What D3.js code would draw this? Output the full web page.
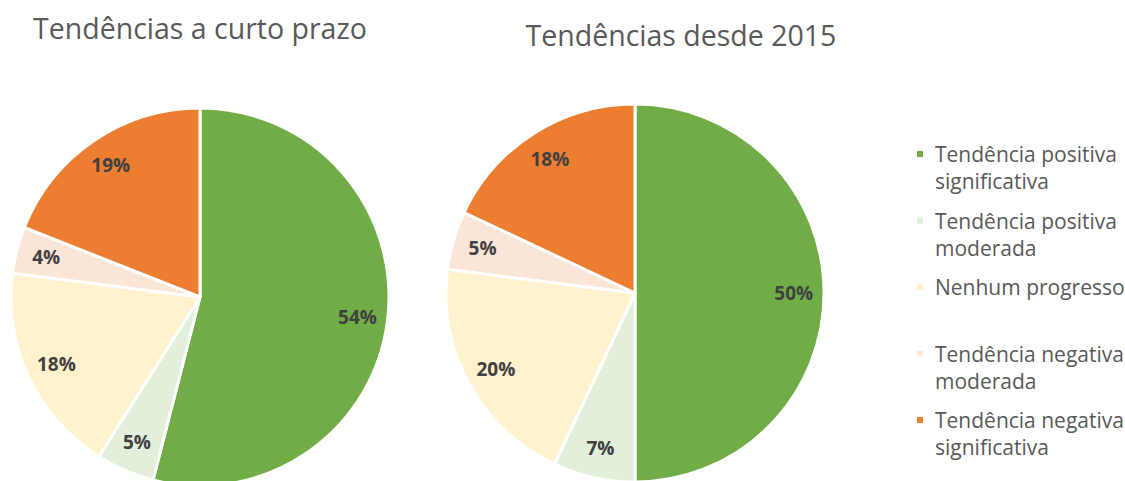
<!DOCTYPE html>
<html>
<head>
<meta charset="utf-8">
<script src="https://cdn.jsdelivr.net/npm/d3@7"></script>
<style>
  body { margin: 0; background: #fff; }
</style>
</head>
<body>
<div id="chart-area"></div>
<script>
var width = 1125, height = 481;

// data
var categories = ["Tendência positiva significativa", "Tendência positiva moderada",
  "Nenhum progresso", "Tendência negativa moderada", "Tendência negativa significativa"];
var legendLines = [["Tendência positiva", "significativa"], ["Tendência positiva", "moderada"],
  ["Nenhum progresso"], ["Tendência negativa", "moderada"], ["Tendência negativa", "significativa"]];
var shortTerm = [54, 5, 18, 4, 19];
var since2015 = [50, 7, 20, 5, 18];
var titles = ["Tendências a curto prazo", "Tendências desde 2015"];

var colors = d3.scaleOrdinal()
  .domain(categories)
  .range(["#70AD47", "#E2EFDA", "#FFF2CC", "#FBE5D6", "#ED7D31"]);

var svg = d3.select("#chart-area")
  .append("svg")
    .attr("width", width)
    .attr("height", height);

var radius = 189;
var pie = d3.pie().sort(null).value(function(d){ return d; });
var arc = d3.arc().innerRadius(0).outerRadius(radius);
var labelArc = d3.arc().innerRadius(radius * 0.68).outerRadius(radius);

var pies = [
  { values: shortTerm, cx: 200, cy: 297, title: titles[0], tx: 200, ty: 39 },
  { values: since2015, cx: 635, cy: 293, title: titles[1], tx: 681, ty: 46 }
];

pies.forEach(function(p){
  var g = svg.append("g")
    .attr("transform", "translate(" + p.cx + "," + p.cy + ")");

  var slices = pie(p.values);

  g.selectAll("path")
    .data(slices)
    .enter()
    .append("path")
      .attr("d", arc)
      .attr("fill", function(d, i){ return colors(categories[i]); })
      .attr("stroke", "#fff")
      .attr("stroke-width", 3)
      .attr("stroke-linejoin", "round");

  g.selectAll(".pct")
    .data(slices)
    .enter()
    .append("text")
      .attr("class", "pct")
      .attr("transform", function(d){ return "translate(" + labelArc.centroid(d) + ")"; })
      .attr("dy", "0.35em")
      .attr("text-anchor", "middle")
      .attr("font-family", "Open Sans, sans-serif")
      .attr("font-weight", "bold")
      .attr("font-size", "19px")
      .attr("fill", "#404040")
      .text(function(d){ return d.data + "%"; });

  svg.append("text")
    .attr("x", p.tx)
    .attr("y", p.ty)
    .attr("text-anchor", "middle")
    .attr("font-family", "Open Sans, sans-serif")
    .attr("font-size", "28.5px")
    .attr("fill", "#595959")
    .text(p.title);
});

// legend
var legend = svg.selectAll(".legend")
  .data(categories)
  .enter()
  .append("g")
    .attr("class", "legend")
    .attr("transform", function(d, i){ return "translate(917," + (154 + i * 66.5) + ")"; });

legend.append("rect")
  .attr("x", 0)
  .attr("y", -3)
  .attr("width", 6)
  .attr("height", 6)
  .attr("fill", function(d){ return colors(d); });

legend.append("text")
  .attr("x", 18)
  .attr("y", 8)
  .attr("font-family", "Open Sans, sans-serif")
  .attr("font-size", "21px")
  .attr("fill", "#595959")
  .selectAll("tspan")
  .data(function(d, i){ return legendLines[i]; })
  .enter()
  .append("tspan")
    .attr("x", 18)
    .attr("dy", function(d, i){ return i === 0 ? 0 : 27; })
    .text(function(d){ return d; });
</script>
</body>
</html>
